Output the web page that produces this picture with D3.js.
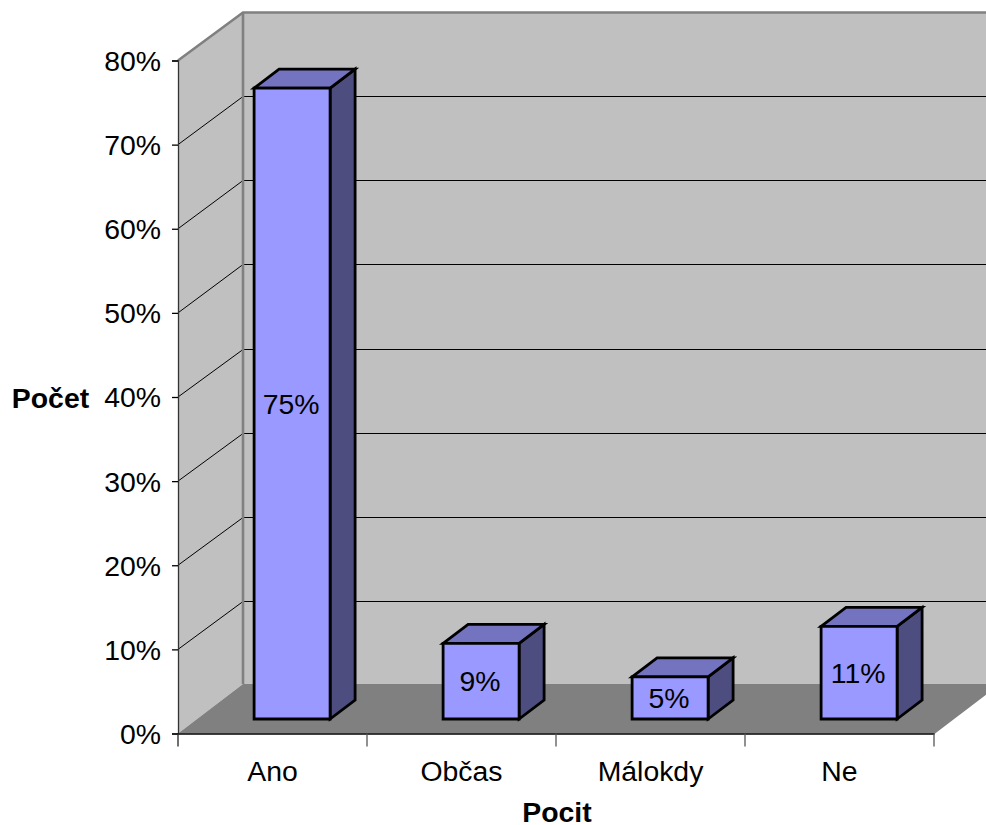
<!DOCTYPE html>
<html><head><meta charset="utf-8">
<script src="https://cdn.jsdelivr.net/npm/d3@7"></script>
<style>
html,body{margin:0;padding:0;background:#fff}
svg{display:block}
text{font-family:"Liberation Sans",Arial,sans-serif;font-size:28.4px;fill:#000}
</style></head><body>
<script>
const categories = ["Ano","Občas","Málokdy","Ne"];
const values = [75,9,5,11];
const valueLabels = ["75%","9%","5%","11%"];
const yTicks = [0,10,20,30,40,50,60,70,80];

const W=986,H=825;
const svg=d3.select("body").append("svg").attr("width",W).attr("height",H);
const x0=178,x1=934,y0=733.5,yT=60.5,dX=65,dY=48,floorBack=684;
const y=d3.scaleLinear().domain([0,80]).range([y0,yT]);
const x=d3.scaleBand().domain(categories).range([x0,x1]);
const poly=(pts)=>pts.map(p=>p.join(",")).join(" ");

// walls and floor
svg.append("polygon").attr("points",poly([[x0,yT],[x0+dX,yT-dY],[x0+dX,floorBack],[x0,y0]])).attr("fill","#c0c0c0");
svg.append("polygon").attr("points",poly([[x0+dX,yT-dY],[W+20,yT-dY],[W+20,floorBack],[x0+dX,floorBack]])).attr("fill","#c0c0c0");
svg.append("polygon").attr("points",poly([[x0,y0],[x1,y0],[x1+dX,floorBack],[x0+dX,floorBack]])).attr("fill","#808080");

// grid
const grid=svg.append("g");
yTicks.filter(t=>t>0&&t<80).forEach(t=>{
  const back=Math.floor(y(t)-dY)+0.5;
  grid.append("line").attr("x1",x0).attr("y1",y(t)).attr("x2",x0+dX).attr("y2",back).attr("stroke","#000").attr("stroke-width",1);
  grid.append("line").attr("x1",x0+dX).attr("y1",back).attr("x2",W+20).attr("y2",back).attr("stroke","#000").attr("stroke-width",1);
});
// gray wall edges
const edge="#808080";
svg.append("path").attr("d",`M${x0},${yT}L${x0+dX},${yT-dY}L${W+20},${yT-dY}`).attr("fill","none").attr("stroke",edge).attr("stroke-width",2.6);
svg.append("line").attr("x1",x0+dX).attr("x2",x0+dX).attr("y1",yT-dY).attr("y2",floorBack).attr("stroke",edge).attr("stroke-width",2.6);
svg.append("line").attr("x1",x1).attr("y1",y0).attr("x2",x1+dX).attr("y2",floorBack).attr("stroke",edge).attr("stroke-width",1.5);

// bars
const barW=76,depX=25,depY=19,liftX=19.6,liftY=14.5;
const base=y(0)-liftY;
const h0=y(0);
categories.forEach((c,i)=>{
  const g=svg.append("g");
  const l=x(c)+(x.bandwidth()-barW)/2+liftX, r=l+barW;
  const t=base-(h0-y(values[i]));
  const b=base;
  const st={stroke:"#000","stroke-width":2.8,"stroke-linejoin":"miter"};
  const add=(pts,fill)=>{const p=g.append("polygon").attr("points",poly(pts)).attr("fill",fill);for(const k in st)p.attr(k,st[k]);};
  add([[r,t],[r+depX,t-depY],[r+depX,b-depY],[r,b]],"#4d4d80");
  add([[l,t],[l+depX,t-depY],[r+depX,t-depY],[r,t]],"#7373bf");
  add([[l,t],[r,t],[r,b],[l,b]],"#9999ff");
  g.append("text").attr("x",(l+r)/2-1).attr("y",(t+b)/2+10).attr("text-anchor","middle").text(valueLabels[i]);
});

// axes
const yAxis=d3.axisLeft(y).tickValues(yTicks).tickFormat(d=>d+"%").tickSize(6).tickPadding(11);
const ya=svg.append("g").attr("transform",`translate(${x0},0)`).call(yAxis);
const xAxis=d3.axisBottom(x).tickSize(0).tickPadding(27);
const xa=svg.append("g").attr("transform",`translate(0,${y0})`).call(xAxis);
[ya,xa].forEach(a=>{a.selectAll("text").attr("font-size",null).attr("font-family",null).style("font-family",'"Liberation Sans",Arial,sans-serif').style("font-size","28.4px");a.selectAll("path,line").attr("stroke","#000").attr("stroke-width",1.3);});
ya.select(".domain").attr("stroke","#333");
ya.selectAll("text").attr("dy","0.35em");
xa.selectAll("text").attr("dy","0.71em");
// category boundary ticks
svg.append("g").selectAll("line").data(d3.range(categories.length+1)).join("line")
  .attr("x1",i=>x0+i*x.step()).attr("x2",i=>x0+i*x.step()).attr("y1",y0).attr("y2",y0+13)
  .attr("stroke",(d,i)=>i===0?"#222":"#555").attr("stroke-width",1.3);

svg.append("text").attr("x",50.5).attr("y",408).attr("text-anchor","middle").style("font-weight","bold").text("Počet");
svg.append("text").attr("x",557).attr("y",822).attr("text-anchor","middle").style("font-weight","bold").text("Pocit");
</script>
</body></html>
